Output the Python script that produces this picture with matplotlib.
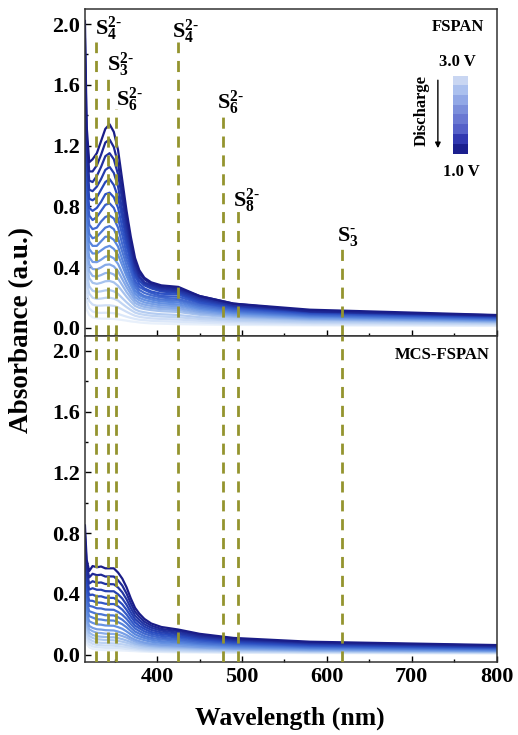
import matplotlib
matplotlib.use("Agg")
import matplotlib.pyplot as plt
from matplotlib.colors import LinearSegmentedColormap, ListedColormap
from matplotlib.ticker import MultipleLocator

plt.rcParams['font.family'] = 'Liberation Serif'
plt.rcParams['font.weight'] = 'bold'
plt.rcParams['mathtext.fontset'] = 'custom'
plt.rcParams['mathtext.rm'] = 'Liberation Serif:bold'
plt.rcParams['mathtext.it'] = 'Liberation Serif:bold'
plt.rcParams['mathtext.bf'] = 'Liberation Serif:bold'

# wavelengths (nm) the spectra were read at
wavelength = [315, 317, 320, 324, 329, 334, 339, 344, 349, 354, 359, 364,
              369, 374, 379, 385, 393, 405, 425, 450, 490, 580, 800]

# FSPAN spectra, first row = 1.0 V (dark), last row = 3.0 V (light)
fspan_abs = [
    [2.02, 1.33, 1.09, 1.11, 1.15, 1.23, 1.31, 1.34, 1.29, 1.17, 0.97, 0.77, 0.60, 0.46, 0.38, 0.33, 0.30, 0.28, 0.27, 0.21, 0.16, 0.12, 0.085],
    [1.90, 1.26, 1.03, 1.03, 1.07, 1.14, 1.22, 1.24, 1.19, 1.08, 0.90, 0.72, 0.56, 0.43, 0.36, 0.32, 0.29, 0.27, 0.26, 0.21, 0.16, 0.11, 0.083],
    [1.79, 1.19, 0.97, 0.96, 1.00, 1.06, 1.13, 1.15, 1.11, 1.01, 0.84, 0.67, 0.53, 0.41, 0.34, 0.30, 0.28, 0.26, 0.25, 0.20, 0.15, 0.11, 0.08],
    [1.68, 1.13, 0.91, 0.90, 0.93, 0.98, 1.04, 1.06, 1.02, 0.93, 0.77, 0.62, 0.50, 0.38, 0.33, 0.29, 0.27, 0.25, 0.24, 0.19, 0.145, 0.106, 0.078],
    [1.58, 1.06, 0.85, 0.84, 0.86, 0.91, 0.96, 0.98, 0.94, 0.86, 0.72, 0.58, 0.46, 0.36, 0.31, 0.28, 0.26, 0.24, 0.23, 0.18, 0.14, 0.103, 0.075],
    [1.47, 0.99, 0.79, 0.77, 0.79, 0.83, 0.88, 0.89, 0.86, 0.79, 0.66, 0.54, 0.43, 0.34, 0.29, 0.26, 0.24, 0.225, 0.22, 0.17, 0.133, 0.098, 0.071],
    [1.36, 0.92, 0.74, 0.71, 0.73, 0.77, 0.81, 0.82, 0.79, 0.72, 0.61, 0.49, 0.40, 0.31, 0.27, 0.25, 0.23, 0.21, 0.205, 0.164, 0.126, 0.093, 0.068],
    [1.26, 0.86, 0.68, 0.65, 0.66, 0.70, 0.73, 0.74, 0.72, 0.66, 0.55, 0.45, 0.37, 0.29, 0.25, 0.23, 0.215, 0.20, 0.19, 0.154, 0.118, 0.087, 0.064],
    [1.15, 0.79, 0.62, 0.59, 0.60, 0.63, 0.66, 0.67, 0.65, 0.59, 0.50, 0.41, 0.33, 0.27, 0.23, 0.21, 0.20, 0.186, 0.18, 0.144, 0.111, 0.082, 0.06],
    [1.06, 0.73, 0.57, 0.54, 0.54, 0.57, 0.60, 0.60, 0.58, 0.535, 0.45, 0.37, 0.305, 0.245, 0.215, 0.20, 0.187, 0.174, 0.168, 0.134, 0.104, 0.077, 0.056],
    [0.96, 0.665, 0.52, 0.49, 0.49, 0.51, 0.53, 0.54, 0.52, 0.48, 0.41, 0.34, 0.28, 0.224, 0.198, 0.184, 0.173, 0.161, 0.155, 0.125, 0.097, 0.072, 0.053],
    [0.865, 0.60, 0.466, 0.434, 0.433, 0.449, 0.469, 0.473, 0.458, 0.421, 0.361, 0.30, 0.248, 0.202, 0.182, 0.168, 0.159, 0.148, 0.143, 0.115, 0.089, 0.066, 0.049],
    [0.78, 0.546, 0.42, 0.388, 0.385, 0.398, 0.415, 0.418, 0.405, 0.373, 0.32, 0.268, 0.223, 0.183, 0.164, 0.153, 0.145, 0.135, 0.13, 0.105, 0.082, 0.061, 0.045],
    [0.695, 0.49, 0.374, 0.342, 0.338, 0.348, 0.361, 0.363, 0.352, 0.325, 0.281, 0.236, 0.198, 0.164, 0.149, 0.138, 0.131, 0.123, 0.118, 0.095, 0.075, 0.056, 0.041],
    [0.61, 0.433, 0.328, 0.297, 0.29, 0.297, 0.307, 0.309, 0.30, 0.277, 0.241, 0.205, 0.173, 0.145, 0.132, 0.124, 0.117, 0.11, 0.105, 0.086, 0.068, 0.051, 0.038],
    [0.51, 0.365, 0.274, 0.245, 0.237, 0.241, 0.247, 0.249, 0.241, 0.224, 0.196, 0.169, 0.144, 0.122, 0.11, 0.103, 0.096, 0.09, 0.085, 0.071, 0.057, 0.044, 0.033],
    [0.42, 0.303, 0.226, 0.199, 0.191, 0.193, 0.198, 0.199, 0.193, 0.18, 0.158, 0.137, 0.118, 0.101, 0.092, 0.086, 0.08, 0.075, 0.07, 0.059, 0.048, 0.037, 0.028],
    [0.33, 0.24, 0.177, 0.154, 0.146, 0.147, 0.149, 0.149, 0.145, 0.136, 0.121, 0.106, 0.092, 0.08, 0.073, 0.068, 0.063, 0.059, 0.055, 0.047, 0.039, 0.031, 0.023],
    [0.24, 0.178, 0.129, 0.108, 0.10, 0.099, 0.10, 0.099, 0.097, 0.092, 0.083, 0.074, 0.066, 0.059, 0.054, 0.051, 0.047, 0.044, 0.04, 0.035, 0.029, 0.023, 0.018],
    [0.16, 0.121, 0.086, 0.07, 0.063, 0.061, 0.061, 0.06, 0.059, 0.056, 0.052, 0.048, 0.043, 0.04, 0.036, 0.033, 0.03, 0.028, 0.025, 0.023, 0.02, 0.017, 0.013],
]

# MCS-FSPAN spectra, same order
mcs_abs = [
    [0.85, 0.625, 0.55, 0.583, 0.575, 0.58, 0.568, 0.568, 0.568, 0.54, 0.50, 0.443, 0.37, 0.308, 0.27, 0.235, 0.205, 0.182, 0.165, 0.137, 0.11, 0.085, 0.063],
    [0.79, 0.585, 0.508, 0.532, 0.523, 0.526, 0.514, 0.515, 0.514, 0.489, 0.454, 0.402, 0.338, 0.282, 0.249, 0.217, 0.191, 0.169, 0.155, 0.128, 0.103, 0.08, 0.059],
    [0.737, 0.545, 0.468, 0.483, 0.473, 0.475, 0.465, 0.464, 0.463, 0.442, 0.41, 0.364, 0.307, 0.257, 0.228, 0.20, 0.177, 0.158, 0.144, 0.119, 0.097, 0.075, 0.055],
    [0.682, 0.506, 0.428, 0.437, 0.427, 0.427, 0.418, 0.417, 0.417, 0.397, 0.369, 0.328, 0.278, 0.234, 0.209, 0.184, 0.163, 0.146, 0.134, 0.111, 0.09, 0.07, 0.051],
    [0.628, 0.466, 0.391, 0.395, 0.383, 0.384, 0.375, 0.374, 0.373, 0.356, 0.331, 0.295, 0.251, 0.213, 0.189, 0.169, 0.149, 0.135, 0.123, 0.103, 0.083, 0.064, 0.048],
    [0.575, 0.428, 0.355, 0.354, 0.343, 0.342, 0.335, 0.333, 0.333, 0.318, 0.296, 0.264, 0.225, 0.191, 0.173, 0.153, 0.137, 0.123, 0.113, 0.094, 0.076, 0.059, 0.044],
    [0.523, 0.39, 0.321, 0.316, 0.305, 0.304, 0.297, 0.296, 0.295, 0.281, 0.262, 0.235, 0.201, 0.172, 0.155, 0.138, 0.124, 0.111, 0.102, 0.085, 0.07, 0.054, 0.04],
    [0.471, 0.352, 0.286, 0.278, 0.268, 0.266, 0.259, 0.259, 0.258, 0.246, 0.23, 0.206, 0.177, 0.152, 0.138, 0.122, 0.11, 0.10, 0.092, 0.076, 0.063, 0.049, 0.036],
    [0.42, 0.314, 0.253, 0.244, 0.233, 0.231, 0.226, 0.225, 0.224, 0.214, 0.20, 0.18, 0.155, 0.134, 0.121, 0.109, 0.098, 0.088, 0.081, 0.069, 0.056, 0.044, 0.033],
    [0.369, 0.277, 0.22, 0.209, 0.199, 0.197, 0.192, 0.191, 0.19, 0.181, 0.17, 0.153, 0.133, 0.115, 0.105, 0.095, 0.085, 0.077, 0.071, 0.06, 0.049, 0.039, 0.029],
    [0.319, 0.24, 0.189, 0.176, 0.167, 0.165, 0.161, 0.16, 0.159, 0.152, 0.142, 0.129, 0.112, 0.098, 0.089, 0.08, 0.072, 0.066, 0.06, 0.051, 0.043, 0.034, 0.025],
    [0.285, 0.215, 0.167, 0.154, 0.144, 0.142, 0.138, 0.137, 0.136, 0.131, 0.122, 0.112, 0.098, 0.086, 0.077, 0.071, 0.063, 0.058, 0.053, 0.046, 0.038, 0.03, 0.023],
    [0.251, 0.19, 0.145, 0.13, 0.121, 0.118, 0.116, 0.114, 0.114, 0.109, 0.102, 0.093, 0.083, 0.073, 0.067, 0.061, 0.056, 0.05, 0.046, 0.04, 0.034, 0.026, 0.02],
    [0.218, 0.165, 0.124, 0.11, 0.101, 0.099, 0.096, 0.095, 0.094, 0.09, 0.085, 0.078, 0.07, 0.063, 0.057, 0.052, 0.047, 0.043, 0.039, 0.034, 0.029, 0.023, 0.018],
    [0.185, 0.141, 0.104, 0.089, 0.081, 0.078, 0.077, 0.075, 0.074, 0.071, 0.068, 0.063, 0.057, 0.051, 0.046, 0.042, 0.039, 0.035, 0.032, 0.028, 0.024, 0.02, 0.015],
    [0.153, 0.117, 0.085, 0.071, 0.064, 0.062, 0.06, 0.06, 0.059, 0.056, 0.053, 0.05, 0.045, 0.042, 0.037, 0.034, 0.03, 0.028, 0.025, 0.023, 0.02, 0.017, 0.013],
    [0.122, 0.093, 0.066, 0.054, 0.049, 0.047, 0.045, 0.045, 0.044, 0.043, 0.04, 0.037, 0.035, 0.032, 0.029, 0.026, 0.024, 0.022, 0.02, 0.018, 0.016, 0.013, 0.01],
    [0.09, 0.069, 0.048, 0.038, 0.033, 0.031, 0.03, 0.03, 0.029, 0.028, 0.027, 0.026, 0.024, 0.023, 0.021, 0.02, 0.018, 0.017, 0.015, 0.014, 0.012, 0.01, 0.008],
]

# polysulfide band positions (nm)
species_nm = [328, 342, 352, 424, 478, 495, 618]
species_labels = [r'$\mathrm{S}_{4}^{2\text{-}}$', r'$\mathrm{S}_{3}^{2\text{-}}$', r'$\mathrm{S}_{6}^{2\text{-}}$',
                  r'$\mathrm{S}_{4}^{2\text{-}}$', r'$\mathrm{S}_{6}^{2\text{-}}$', r'$\mathrm{S}_{8}^{2\text{-}}$',
                  r'$\mathrm{S}_{3}^{\text{-}}$']

# discharge scale swatches, 3.0 V (top) -> 1.0 V (bottom)
legend_colors = ['#c9d6f2', '#abc0ee', '#92a8e6', '#7c8fdb', '#6a78d2', '#5560c8', '#3138b0', '#1b1f8e']

# layout for the labels / dashed lines in the top panel (data y)
line_tops = [1.88, 1.64, 1.44, 1.88, 1.42, 0.77, 0.53]
label_y = [1.97, 1.73, 1.50, 1.95, 1.48, 0.84, 0.60]
label_dx = [-1, -1, -1, -6, -7, -6, -6]

cmap = LinearSegmentedColormap.from_list('dis', ['#e8f0fb', '#aac5ef', '#5d8be0', '#2b4fc2', '#1a1d88'])
dash_col = '#94942e'
ylo, yhi = -0.05, 2.1

fig, (ax1, ax2) = plt.subplots(2, 1, figsize=(5.18, 7.35), dpi=100, sharex=True)
fig.subplots_adjust(left=0.164, right=0.959, top=0.988, bottom=0.099, hspace=0)

for ax, spectra in ((ax1, fspan_abs), (ax2, mcs_abs)):
    n = len(spectra)
    for i in range(n - 1, -1, -1):
        ax.plot(wavelength, spectra[i], color=cmap(1 - i / (n - 1)), lw=1.6, zorder=2)
    ax.set_xlim(315, 800)
    ax.set_ylim(ylo, yhi)
    ax.xaxis.set_major_locator(MultipleLocator(100))
    ax.xaxis.set_minor_locator(MultipleLocator(50))
    ax.yaxis.set_major_locator(MultipleLocator(0.4))
    ax.yaxis.set_minor_locator(MultipleLocator(0.2))
    ax.tick_params(which='both', direction='in', labelsize=16, width=1, top=False, right=False)
    ax.tick_params(which='major', length=4)
    ax.tick_params(which='minor', length=2.5)
    ax.yaxis.set_major_formatter(plt.FormatStrFormatter('%.1f'))
    for s in ax.spines.values():
        s.set_linewidth(1.1)
        s.set_color('#333333')

# dashed marker lines and labels
ax1.vlines(species_nm, ylo, line_tops, colors=dash_col, linestyles=(0, (4, 2.8)), lw=2, zorder=3)
ax2.vlines(species_nm, ylo, yhi, colors=dash_col, linestyles=(0, (4, 2.8)), lw=2, zorder=3)
for x, lab, y, dx in zip(species_nm, species_labels, label_y, label_dx):
    ax1.text(x + dx, y, lab, fontsize=16, ha='left', va='center', zorder=4)

ax1.text(0.97, 0.945, 'FSPAN', transform=ax1.transAxes, fontsize=12, ha='right', va='center')
ax2.text(0.983, 0.94, 'MCS-FSPAN', transform=ax2.transAxes, fontsize=12, ha='right', va='center')

# discharge scale
ax1.text(0.905, 0.838, '3.0 V', transform=ax1.transAxes, fontsize=12, ha='center', va='center')
ax1.text(0.915, 0.50, '1.0 V', transform=ax1.transAxes, fontsize=12, ha='center', va='center')
ax1.text(0.818, 0.69, 'Discharge', transform=ax1.transAxes, fontsize=12, rotation=90,
         ha='center', va='center')
ax1.annotate('', xy=(0.857, 0.565), xytext=(0.857, 0.79), xycoords='axes fraction',
             arrowprops=dict(arrowstyle='-|>', color='black', lw=1, mutation_scale=8))
cax = ax1.inset_axes([0.893, 0.555, 0.034, 0.24])
cax.imshow([[i] for i in range(len(legend_colors))], cmap=ListedColormap(legend_colors),
           aspect='auto', interpolation='nearest')
cax.axis('off')

fig.text(0.042, 0.551, 'Absorbance (a.u.)', rotation=90, fontsize=19.5, ha='center', va='center')
fig.text(0.56, 0.023, 'Wavelength (nm)', fontsize=18.5, ha='center', va='center')

fig.savefig('out.png', dpi=100)
